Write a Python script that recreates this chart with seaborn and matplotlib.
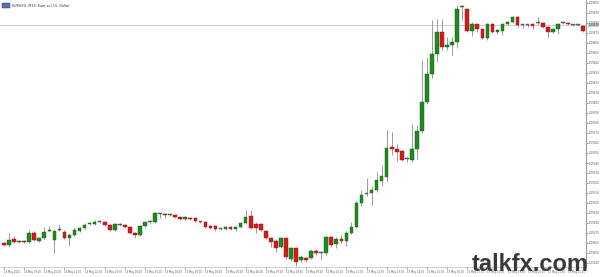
import matplotlib
matplotlib.use("Agg")
import matplotlib.pyplot as plt
import seaborn as sns
import numpy as np
import pandas as pd

sns.set_theme(style="white")
plt.rcParams["font.family"] = ["DejaVu Sans"]

title_text = "EURUSD, M15: Euro vs U.S. Dollar"
watermark = "talkfx.com"

open_ = [1.09260, 1.09258, 1.09264, 1.09261, 1.09262, 1.09261, 1.09270, 1.09262, 1.09265, 1.09272,
         1.09263, 1.09273, 1.09271, 1.09265, 1.09268, 1.09272, 1.09275, 1.09279, 1.09279, 1.09281,
         1.09281, 1.09278, 1.09273, 1.09278, 1.09278, 1.09276, 1.09270, 1.09268, 1.09277, 1.09281,
         1.09281, 1.09289, 1.09289, 1.09288, 1.09288, 1.09286, 1.09284, 1.09285, 1.09285, 1.09281,
         1.09281, 1.09277, 1.09277, 1.09274, 1.09274, 1.09276, 1.09274, 1.09276, 1.09280, 1.09287,
         1.09279, 1.09279, 1.09272, 1.09265, 1.09262, 1.09256, 1.09265, 1.09244, 1.09255, 1.09243,
         1.09245, 1.09245, 1.09252, 1.09250, 1.09250, 1.09266, 1.09259, 1.09264, 1.09262, 1.09270,
         1.09276, 1.09300, 1.09309, 1.09310, 1.09313, 1.09322, 1.09326, 1.09356, 1.09354, 1.09352,
         1.09344, 1.09343, 1.09354, 1.09372, 1.09401, 1.09429, 1.09449, 1.09471, 1.09456, 1.09458,
         1.09461, 1.09496, 1.09494, 1.09472, 1.09479, 1.09474, 1.09465, 1.09479, 1.09471, 1.09472,
         1.09479, 1.09481, 1.09486, 1.09478, 1.09478, 1.09479, 1.09480, 1.09480, 1.09476, 1.09471,
         1.09474, 1.09480, 1.09480, 1.09478, 1.09478, 1.09477]
close = [1.09258, 1.09263, 1.09261, 1.09262, 1.09261, 1.09270, 1.09263, 1.09265, 1.09271, 1.09273,
         1.09272, 1.09274, 1.09265, 1.09268, 1.09273, 1.09275, 1.09278, 1.09280, 1.09281, 1.09281,
         1.09278, 1.09273, 1.09279, 1.09278, 1.09276, 1.09270, 1.09268, 1.09277, 1.09281, 1.09281,
         1.09290, 1.09289, 1.09288, 1.09289, 1.09286, 1.09284, 1.09286, 1.09284, 1.09282, 1.09281,
         1.09276, 1.09275, 1.09274, 1.09274, 1.09276, 1.09274, 1.09276, 1.09280, 1.09286, 1.09275,
         1.09275, 1.09273, 1.09265, 1.09261, 1.09255, 1.09265, 1.09246, 1.09255, 1.09241, 1.09246,
         1.09243, 1.09252, 1.09250, 1.09250, 1.09266, 1.09258, 1.09264, 1.09262, 1.09270, 1.09276,
         1.09300, 1.09308, 1.09309, 1.09313, 1.09323, 1.09327, 1.09355, 1.09354, 1.09351, 1.09343,
         1.09344, 1.09354, 1.09372, 1.09401, 1.09429, 1.09449, 1.09471, 1.09456, 1.09458, 1.09461,
         1.09494, 1.09496, 1.09472, 1.09479, 1.09474, 1.09465, 1.09479, 1.09471, 1.09473, 1.09479,
         1.09481, 1.09486, 1.09478, 1.09478, 1.09478, 1.09477, 1.09480, 1.09476, 1.09471, 1.09474,
         1.09479, 1.09480, 1.09479, 1.09478, 1.09478, 1.09472]
high = [1.09261, 1.09270, 1.09267, 1.09263, 1.09263, 1.09273, 1.09272, 1.09266, 1.09276, 1.09277,
        1.09273, 1.09278, 1.09273, 1.09270, 1.09276, 1.09276, 1.09280, 1.09281, 1.09283, 1.09283,
        1.09282, 1.09279, 1.09280, 1.09280, 1.09279, 1.09277, 1.09271, 1.09278, 1.09282, 1.09283,
        1.09291, 1.09290, 1.09290, 1.09289, 1.09289, 1.09287, 1.09287, 1.09286, 1.09286, 1.09282,
        1.09282, 1.09278, 1.09278, 1.09275, 1.09277, 1.09277, 1.09277, 1.09281, 1.09293, 1.09293,
        1.09281, 1.09280, 1.09273, 1.09266, 1.09264, 1.09266, 1.09266, 1.09256, 1.09256, 1.09248,
        1.09246, 1.09254, 1.09254, 1.09252, 1.09267, 1.09267, 1.09266, 1.09268, 1.09272, 1.09281,
        1.09302, 1.09313, 1.09325, 1.09317, 1.09331, 1.09338, 1.09373, 1.09371, 1.09359, 1.09353,
        1.09346, 1.09379, 1.09378, 1.09443, 1.09446, 1.09483, 1.09484, 1.09484, 1.09466, 1.09466,
        1.09498, 1.09498, 1.09495, 1.09481, 1.09480, 1.09475, 1.09480, 1.09480, 1.09474, 1.09480,
        1.09482, 1.09487, 1.09487, 1.09479, 1.09479, 1.09480, 1.09486, 1.09481, 1.09477, 1.09475,
        1.09480, 1.09482, 1.09481, 1.09479, 1.09479, 1.09478]
low = [1.09257, 1.09256, 1.09260, 1.09260, 1.09260, 1.09260, 1.09262, 1.09261, 1.09264, 1.09271,
       1.09250, 1.09272, 1.09264, 1.09257, 1.09267, 1.09271, 1.09274, 1.09278, 1.09278, 1.09280,
       1.09277, 1.09272, 1.09272, 1.09277, 1.09275, 1.09269, 1.09265, 1.09267, 1.09276, 1.09279,
       1.09280, 1.09285, 1.09285, 1.09287, 1.09285, 1.09283, 1.09283, 1.09283, 1.09281, 1.09280,
       1.09275, 1.09274, 1.09272, 1.09273, 1.09273, 1.09273, 1.09272, 1.09275, 1.09279, 1.09274,
       1.09270, 1.09272, 1.09264, 1.09256, 1.09251, 1.09255, 1.09244, 1.09242, 1.09237, 1.09241,
       1.09241, 1.09244, 1.09248, 1.09243, 1.09248, 1.09256, 1.09255, 1.09260, 1.09257, 1.09269,
       1.09275, 1.09297, 1.09307, 1.09298, 1.09311, 1.09317, 1.09322, 1.09348, 1.09342, 1.09342,
       1.09341, 1.09341, 1.09344, 1.09370, 1.09399, 1.09425, 1.09441, 1.09453, 1.09453, 1.09448,
       1.09455, 1.09483, 1.09471, 1.09467, 1.09471, 1.09464, 1.09463, 1.09470, 1.09469, 1.09468,
       1.09478, 1.09480, 1.09476, 1.09475, 1.09476, 1.09474, 1.09478, 1.09475, 1.09466, 1.09470,
       1.09469, 1.09479, 1.09478, 1.09477, 1.09477, 1.09471]

price_line = 1.09478
y_ticks = [1.0924 + 0.0001 * k for k in range(27)]
x_tick_idx = list(range(0, 116, 4))
x_tick_labels = ["14 May 2020"] + [
    (pd.Timestamp("2020-05-14 18:00") + pd.Timedelta(hours=h)).strftime("%d May %H:%M").lstrip("0")
    for h in range(1, len(x_tick_idx))
]

df = pd.DataFrame({"open": open_, "close": close, "high": high, "low": low})
df["idx"] = np.arange(len(df))
df["kind"] = np.where(df["close"] > df["open"], "up",
                      np.where(df["close"] < df["open"], "down", "doji"))

W, H = 600, 277
fig = plt.figure(figsize=(W / 100, H / 100), dpi=100)
ax = fig.add_axes([0, 1 - 267 / H, 586 / W, 267 / H])
ax.set_facecolor("white")

# wicks
ax.vlines(df["idx"], df["low"], df["high"], color="#8c8c8c", linewidth=0.6, zorder=2)

body_colors = {"up": "#1f8a1f", "down": "#d41c1c", "doji": "#606060"}
edge_colors = {"up": "#0f5a0f", "down": "#8e0e0e", "doji": "#505050"}
min_h = 0.000012
for kind, g in df.groupby("kind"):
    bottom = np.minimum(g["open"], g["close"])
    height = np.maximum(np.abs(g["close"] - g["open"]), min_h)
    ax.bar(g["idx"], height, bottom=bottom, width=0.72,
           color=body_colors[kind], edgecolor=edge_colors[kind], linewidth=0.3, zorder=3)

# price line
sns.lineplot(x=[-2, 120], y=[price_line, price_line], ax=ax, color="#c8c8c8",
             linewidth=0.6, zorder=1)

px_per = 5.035
left = -4 / px_per
ax.set_xlim(left, left + 586 / px_per)
ax.set_ylim(1.09503 - 267e-5, 1.09503)

ax.yaxis.tick_right()
ax.set_yticks(y_ticks)
ax.set_yticklabels([f"{v:.5f}" for v in y_ticks])
ax.tick_params(axis="y", labelsize=1.9, length=1.5, width=0.4, pad=0.8,
               colors="#555555", right=True, left=False)

ax.set_xticks(x_tick_idx)
ax.set_xticklabels(x_tick_labels, ha="left")
ax.tick_params(axis="x", labelsize=1.85, length=1.5, width=0.4, pad=1.0,
               colors="#555555", bottom=True)

for s in ["top", "left"]:
    ax.spines[s].set_visible(False)
ax.spines["right"].set_color("#9a9a9a")
ax.spines["right"].set_linewidth(0.8)
ax.spines["bottom"].set_color("#bdbdbd")
ax.spines["bottom"].set_linewidth(0.5)

ax.text(1.004, price_line, f"{price_line:.5f}", transform=ax.get_yaxis_transform(),
        fontsize=1.9, color="#222222", va="center", ha="left",
        bbox=dict(boxstyle="square,pad=0.15", facecolor="#d0d0d0", edgecolor="none"))

# title
ax.text(12 / 586, 1 - 6 / 267, title_text, transform=ax.transAxes, fontsize=2.4,
        color="#333333", va="center", ha="left")
fig.patches.append(plt.Rectangle((2 / W, 1 - 8 / H), 8 / W, 5 / H, transform=fig.transFigure,
                                 facecolor="#5b6fb5", edgecolor="#333366", linewidth=0.3))

fig.text(589 / W, 1 - 271 / H, watermark, fontsize=17, fontweight="bold",
         family=["Liberation Sans", "DejaVu Sans"],
         color="#3a3a3a", ha="right", va="baseline")

fig.savefig("out.png", dpi=100, facecolor="white")
